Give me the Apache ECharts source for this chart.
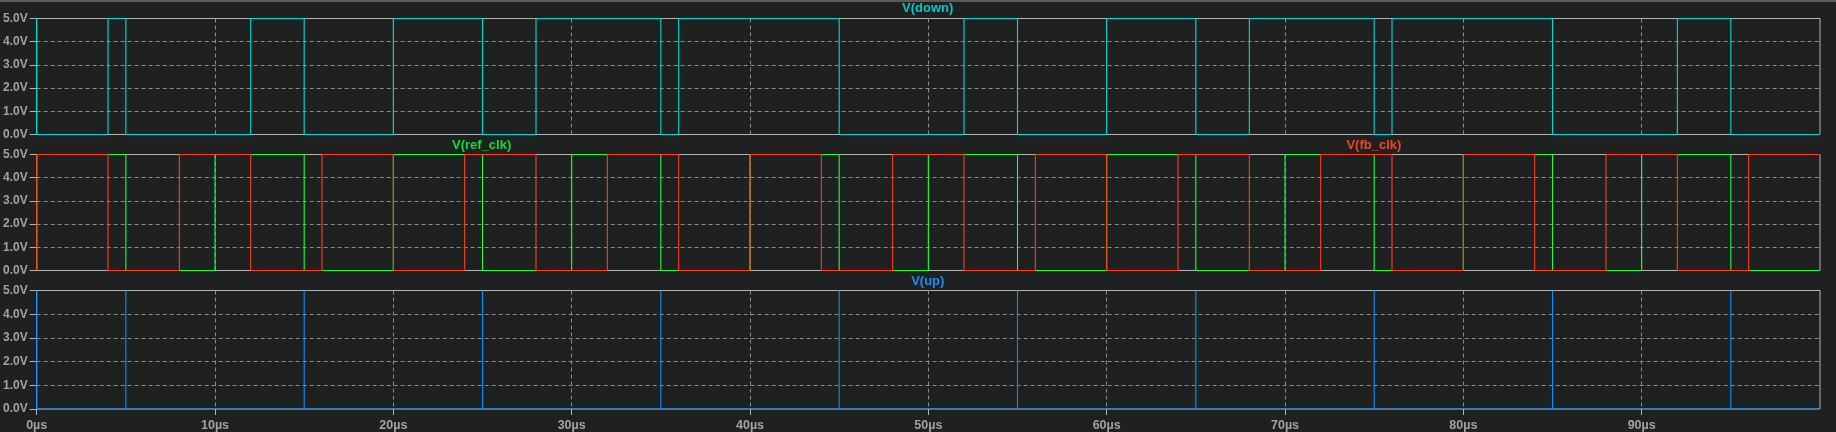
<!DOCTYPE html>
<html>
<head>
<meta charset="utf-8">
<script src="https://cdn.jsdelivr.net/npm/echarts@6/dist/echarts.min.js"></script>
<style>
html,body{margin:0;padding:0;background:#1e211f;}
#chart{width:1836px;height:432px;}
</style>
</head>
<body>
<div id="chart"></div>
<script>
// ---- data (times in µs, levels in V) ----
const timeTicks = [0, 10, 20, 30, 40, 50, 60, 70, 80, 90, 100];
const voltTicks = [0, 1, 2, 3, 4, 5];

// V(down): level before first edge, then toggles at each edge time
const downStart = 5;
const downEdges = [0, 4, 5, 12, 15, 20, 25, 28, 35, 36, 45, 52, 55, 60, 65, 68, 75, 76, 85, 92, 95];

// V(ref_clk)
const refStart = 0;
const refEdges = [0, 5, 10, 15, 20, 25, 30, 35, 40, 45, 50, 55, 60, 65, 70, 75, 80, 85, 90, 95];

// V(fb_clk)
const fbStart = 0;
const fbEdges = [0, 4, 8, 12, 16, 20, 24, 28, 32, 36, 40, 44, 48, 52, 56, 60, 64, 68, 72, 76, 80, 84, 88, 92, 96];

// V(up): zero-width pulses
const upSpikes = [0, 5, 15, 25, 35, 45, 55, 65, 75, 85, 95];

const vHigh = 5, vLow = 0, tEnd = 100;

function steps(start, edges) {
  let v = start;
  const pts = [];
  if (edges[0] > 0) pts.push([0, v]);
  edges.forEach(e => { pts.push([e, v]); v = (v === vHigh ? vLow : vHigh); pts.push([e, v]); });
  pts.push([tEnd, v]);
  return pts;
}
function spikes(list) {
  const pts = [];
  list.forEach(s => { pts.push([s, vLow]); pts.push([s, vHigh]); pts.push([s, vLow]); });
  pts.push([tEnd, vLow]);
  return pts;
}

const C = {
  bg: '#1e211f', border: '#b4b4b4', grid: '#8a8a8a', text: '#a2a2a2',
  down: '#00dada', downT: '#00c8c8',
  ref: '#1aff3c', refT: '#14dc3c',
  fb: '#ff3c1e', fbT: '#f04628',
  up: '#0a90ff', upT: '#1e8cf0'
};

const L = 35.5, R = 16;
const panes = [{top: 18.5, h: 116}, {top: 154.5, h: 116}, {top: 290.5, h: 120}];

const chart = echarts.init(document.getElementById('chart'), null, {renderer: 'canvas'});

const grids = panes.map(p => ({
  left: L, right: R, top: p.top, height: p.h, show: true,
  borderColor: C.border, borderWidth: 1, backgroundColor: 'transparent', containLabel: false
}));

const xAxes = panes.map((p, i) => ({
  type: 'value', gridIndex: i, min: timeTicks[0], max: timeTicks[timeTicks.length - 1], interval: 10,
  axisLine: {show: false},
  axisTick: {show: i === 2, length: 6, inside: false, lineStyle: {color: C.border}},
  axisLabel: {
    show: i === 2, color: C.text, margin: 10, showMaxLabel: false, showMinLabel: true,
    fontFamily: 'Liberation Sans', fontWeight: 'bold', fontSize: 12.5,
    formatter: v => v + 'µs'
  },
  splitLine: {show: true, showMinLine: false, showMaxLine: false,
    lineStyle: {color: C.grid, type: [4, 3], width: 1}}
}));

const yAxes = panes.map((p, i) => ({
  type: 'value', gridIndex: i, min: voltTicks[0], max: voltTicks[voltTicks.length - 1], interval: 1,
  axisLine: {show: false},
  axisTick: {show: true, length: 7, inside: false, lineStyle: {color: C.border}},
  axisLabel: {
    show: true, color: C.text, margin: 9,
    fontFamily: 'Liberation Sans', fontWeight: 'bold', fontSize: 12,
    formatter: v => v.toFixed(1) + 'V'
  },
  splitLine: {show: true, showMinLine: false, showMaxLine: false,
    lineStyle: {color: C.grid, type: [4, 3], width: 1}}
}));

function line(name, data, color, idx, w) {
  return {
    name, type: 'line', xAxisIndex: idx, yAxisIndex: idx, data,
    showSymbol: false, symbol: 'none', animation: false, silent: true,
    lineStyle: {color, width: w}, clip: true
  };
}

const plotW = 1836 - L - R;
const titleFont = 'bold 13px "Liberation Sans"';
chart.setOption({
  backgroundColor: C.bg,
  animation: false,
  grid: grids,
  xAxis: xAxes,
  yAxis: yAxes,
  series: [
    line('V(down)', steps(downStart, downEdges), C.down, 0, 1.1),
    line('V(ref_clk)', steps(refStart, refEdges), C.ref, 1, 1.1),
    line('V(fb_clk)', steps(fbStart, fbEdges), C.fb, 1, 1.1),
    line('V(up)', spikes(upSpikes), C.up, 2, 1.1)
  ],
  graphic: [
    {type: 'rect', shape: {x: 0, y: 0, width: 1836, height: 2}, style: {fill: '#5a5a5a'}, silent: true},
    {type: 'text', x: L + plotW * 0.5, y: 8.5, style: {text: 'V(down)', fill: C.downT, font: titleFont, align: 'center', verticalAlign: 'middle'}},
    {type: 'text', x: L + plotW * 0.25, y: 145, style: {text: 'V(ref_clk)', fill: C.refT, font: titleFont, align: 'center', verticalAlign: 'middle'}},
    {type: 'text', x: L + plotW * 0.75, y: 145, style: {text: 'V(fb_clk)', fill: C.fbT, font: titleFont, align: 'center', verticalAlign: 'middle'}},
    {type: 'text', x: L + plotW * 0.5, y: 281, style: {text: 'V(up)', fill: C.upT, font: titleFont, align: 'center', verticalAlign: 'middle'}}
  ]
});
</script>
</body>
</html>
